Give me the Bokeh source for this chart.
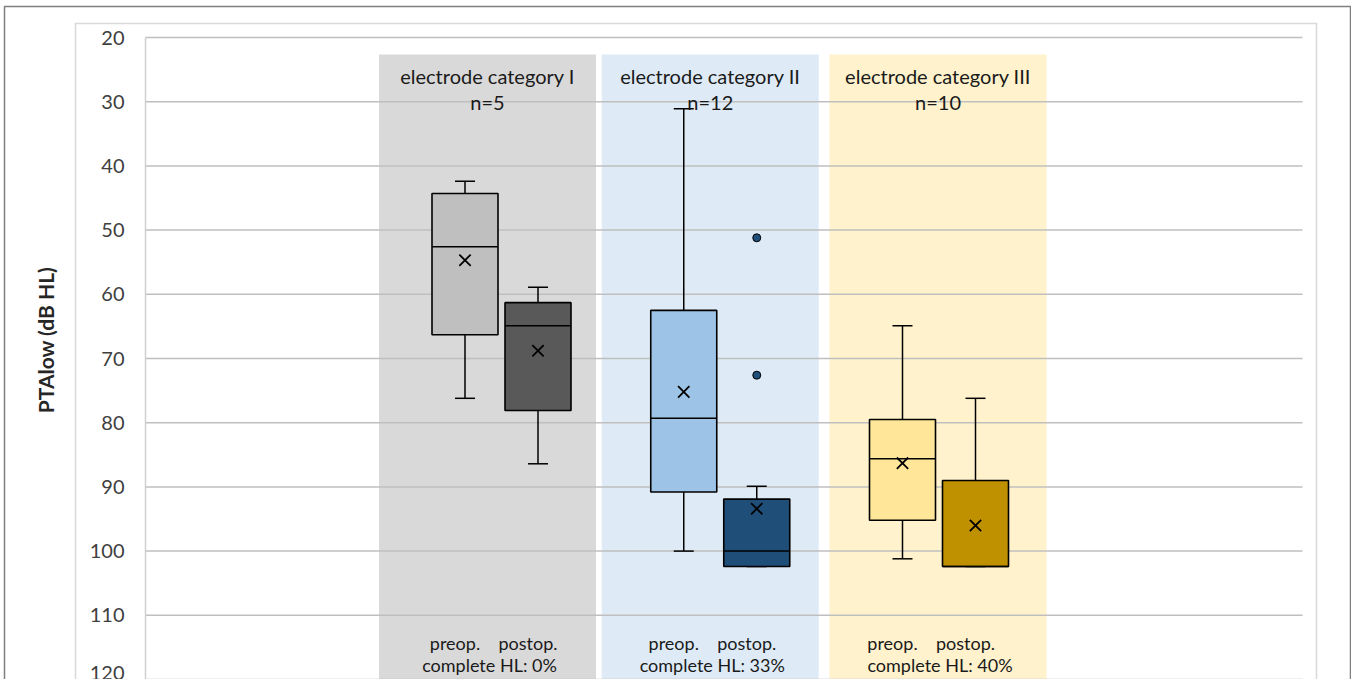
from bokeh.plotting import figure
from bokeh.models import Range1d, LinearAxis, FixedTicker
from bokeh.embed import file_html
from bokeh.resources import INLINE
from bokeh.core.properties import value

# ---------------- data ----------------
categories = ["electrode category I", "electrode category II", "electrode category III"]
n_labels = ["n=5", "n=12", "n=10"]
complete_hl = ["complete HL: 0%", "complete HL: 33%", "complete HL: 40%"]
phases = ["preop.", "postop."]

# boxes in order: I preop, I postop, II preop, II postop, III preop, III postop
whisker_min = [42.4, 58.9, 31.1, 89.9, 64.9, 76.2]
q1 = [44.3, 61.3, 62.5, 91.9, 79.5, 89.0]
median = [52.6, 64.9, 79.3, 100.0, 85.6, 102.4]
q3 = [66.3, 78.1, 90.8, 102.4, 95.2, 102.4]
whisker_max = [76.2, 86.4, 100.0, 102.4, 101.2, 102.4]
mean = [54.7, 68.8, 75.2, 93.4, 86.3, 96.0]

outlier_box = [3, 3]
outlier_values = [51.2, 72.6]

y_ticks = [20, 30, 40, 50, 60, 70, 80, 90, 100, 110, 120]

band_colors = ["#d9d9d9", "#deebf7", "#fff2cc"]
box_colors = ["#bfbfbf", "#595959", "#9dc3e6", "#1f4e79", "#ffe699", "#bf9000"]

# ---------------- layout helpers (canvas pixels) ----------------
W, H = 1351, 679
PX_PER_X = 218.75          # pixels per category step
X0 = 282.25                # canvas pixel of x = 0
PX_PER_Y = 6.42            # pixels per dB
Y20 = 37                   # canvas pixel of 20 dB


def px_x(px):
    return (px - X0) / PX_PER_X


def px_y(py):
    return 20 + (py - Y20) / PX_PER_Y


cat_pos = [1, 2, 3]
offset = 36.5 / PX_PER_X
half_box = 33 / PX_PER_X
half_cap = 10 / PX_PER_X
box_x = []
for c in cat_pos:
    box_x += [c - offset, c + offset]

p = figure(width=W, height=H, output_backend="svg", toolbar_location=None,
           x_range=Range1d(px_x(0), px_x(W)),
           y_range=Range1d(px_y(H), px_y(0)),
           min_border=0, min_border_left=0, min_border_right=0,
           min_border_top=0, min_border_bottom=0)
p.xaxis.visible = False
p.yaxis.visible = False
p.xgrid.visible = False
p.ygrid.visible = False
p.background_fill_color = "white"
p.border_fill_color = "white"
p.outline_line_color = None

# outer border
ox0, ox1, oy0, oy1 = px_x(4), px_x(1350), px_y(6), px_y(720)
p.multi_line(xs=[[ox0, ox0, ox1, ox1]], ys=[[oy1, oy0, oy0, oy1]],
             line_color="#7f7f7f", line_width=1.5)

# inner chart-area frame
fx0, fx1, fy0, fy1 = px_x(75), px_x(1316), px_y(23), px_y(720)
p.multi_line(xs=[[fx0, fx0, fx1, fx1]], ys=[[fy1, fy0, fy0, fy1]],
             line_color="#d9d9d9", line_width=1.5)

# category bands (slightly offset from the box pairs, as in the original)
band_shift_px = [-14, -10, -1]
band_half = 108.5 / PX_PER_X
band_centers = [c + s / PX_PER_X for c, s in zip(cat_pos, band_shift_px)]
p.quad(left=[b - band_half for b in band_centers],
       right=[b + band_half for b in band_centers],
       top=[px_y(54)] * 3, bottom=[px_y(683)] * 3,
       fill_color=band_colors, line_color=None)

# gridlines
gx0, gx1 = px_x(145), px_x(1302)
p.segment(x0=[gx0] * len(y_ticks), x1=[gx1] * len(y_ticks), y0=y_ticks, y1=y_ticks,
          line_color="#bfbfbf", line_width=1.5)
# vertical axis line
p.segment(x0=[gx0], x1=[gx0], y0=[y_ticks[0]], y1=[y_ticks[-1]],
          line_color="#d0d0d0", line_width=1.5)

# y axis (labels only; line drawn above)
ax = LinearAxis(fixed_location=gx0, ticker=FixedTicker(ticks=y_ticks))
ax.axis_line_color = None
ax.major_tick_line_color = None
ax.minor_tick_line_color = None
ax.major_label_standoff = 15
ax.major_label_text_font = "Lato"
ax.major_label_text_font_size = "20px"
ax.major_label_text_color = "#404040"
ax.axis_label = "PTAlow (dB HL)"
ax.axis_label_text_font = "Lato"
ax.axis_label_text_font_size = "21px"
ax.axis_label_text_font_style = "bold"
ax.axis_label_text_color = "#262626"
ax.axis_label_standoff = 29
p.add_layout(ax, "left")

# whiskers
p.segment(x0=box_x, x1=box_x, y0=whisker_min, y1=q1, line_color="black", line_width=1.5)
p.segment(x0=box_x, x1=box_x, y0=q3, y1=whisker_max, line_color="black", line_width=1.5)
p.segment(x0=[x - half_cap for x in box_x], x1=[x + half_cap for x in box_x],
          y0=whisker_min, y1=whisker_min, line_color="black", line_width=1.5)
p.segment(x0=[x - half_cap for x in box_x], x1=[x + half_cap for x in box_x],
          y0=whisker_max, y1=whisker_max, line_color="black", line_width=1.5)

# boxes
p.quad(left=[x - half_box for x in box_x], right=[x + half_box for x in box_x],
       top=q1, bottom=q3, fill_color=box_colors, line_color="black", line_width=1.6)
p.segment(x0=[x - half_box for x in box_x], x1=[x + half_box for x in box_x],
          y0=median, y1=median, line_color="black", line_width=1.5)

# means
p.scatter(x=box_x, y=mean, marker="x", size=16, line_color="black", line_width=1.8)

# outliers
p.scatter(x=[box_x[i] for i in outlier_box], y=outlier_values, marker="circle", size=8,
          fill_color=[box_colors[i] for i in outlier_box], line_color="black", line_width=1)

# texts
p.text(x=band_centers, y=[px_y(75)] * 3, text=categories, text_align="center",
       text_baseline="middle", text_font=value("Lato"), text_font_size="20px",
       text_color="#1a1a1a")
p.text(x=band_centers, y=[px_y(101)] * 3, text=n_labels, text_align="center",
       text_baseline="middle", text_font=value("Lato"), text_font_size="20px",
       text_color="#1a1a1a")
phase_shift = 10 / PX_PER_X
p.text(x=[x - phase_shift for x in box_x], y=[px_y(642)] * 6,
       text=phases * 3, text_align="center", text_baseline="middle",
       text_font=value("Lato"), text_font_size="18px", text_color="#1a1a1a")
p.text(x=[b + 2 / PX_PER_X for b in band_centers], y=[px_y(664)] * 3, text=complete_hl,
       text_align="center", text_baseline="middle", text_font=value("Lato"),
       text_font_size="18px", text_color="#1a1a1a")

open("out.html", "w").write(file_html(p, INLINE))
